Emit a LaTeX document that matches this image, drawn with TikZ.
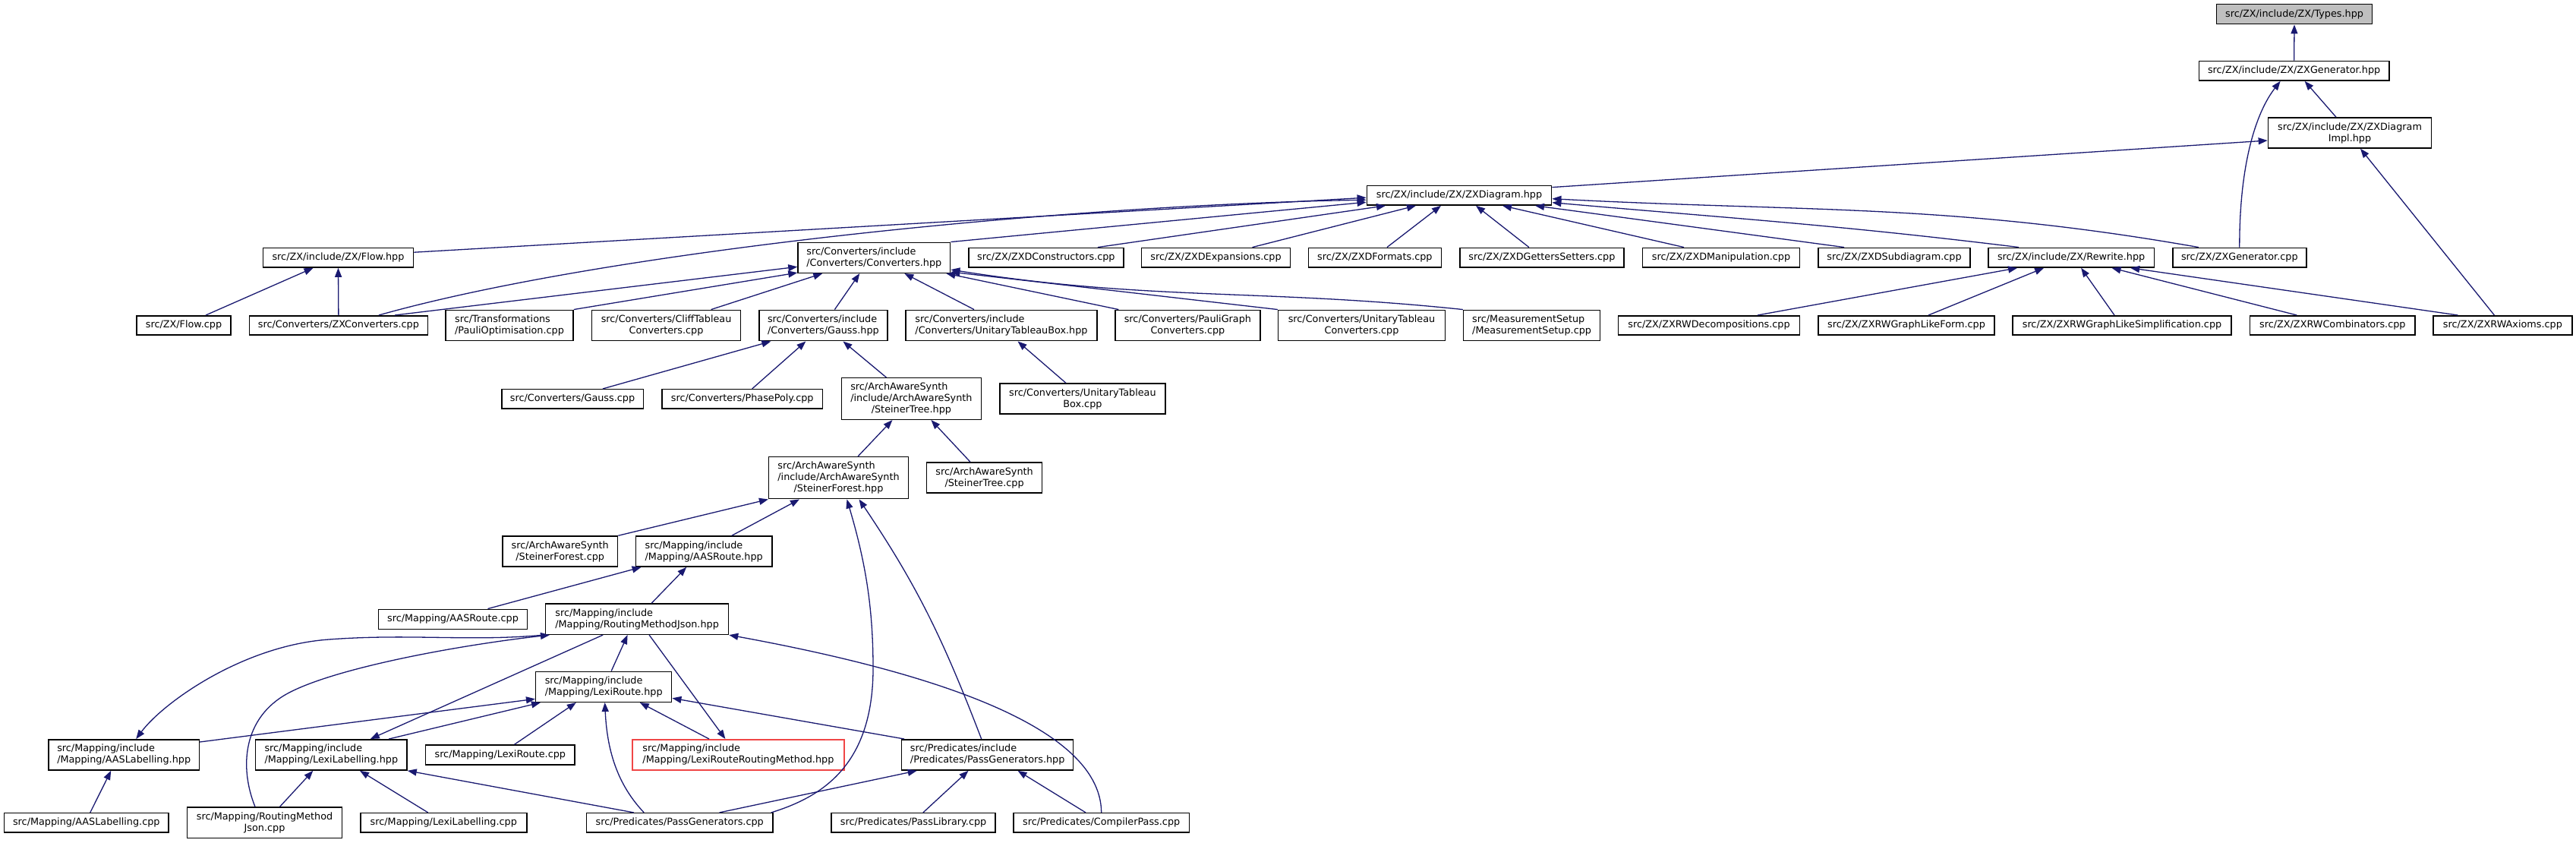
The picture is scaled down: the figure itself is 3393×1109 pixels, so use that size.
\documentclass[tikz,border=0pt]{standalone}
\usepackage{fontspec}
\setmainfont{DejaVu Sans}
\usetikzlibrary{arrows.meta}
\definecolor{edgeblue}{RGB}{25,25,112}
\definecolor{nodered}{RGB}{240,70,70}
\definecolor{rootgray}{RGB}{191,191,191}
\tikzset{
  box/.style={draw=black, line width=1.5pt, fill=white, inner sep=0pt, font=\fontsize{12.8}{15}\selectfont, align=center},
  lbox/.style={align=left},
  edge/.style={draw=edgeblue, line width=1.3pt, {Triangle[length=12pt,width=9pt]}-},
}
\newcommand\nd[7][]{\node[box,#1,minimum width=#5pt,minimum height=#6pt] (#2) at (#3,#4) {#7};}
\begin{document}
\begin{tikzpicture}[x=1pt,y=-1pt]
\useasboundingbox (0,0) rectangle (3393,1109);
% nodes
\nd[fill=rootgray]{types}{3022}{18.7}{205}{26}{src/ZX/include/ZX/Types.hpp}
\nd{zxghpp}{3021.6}{93.2}{250.4}{25.7}{src/ZX/include/ZX/ZXGenerator.hpp}
\nd{impl}{3095}{175}{215.2}{40}{src/ZX/include/ZX/ZXDiagram\\Impl.hpp}
\nd{zxd}{1922}{257.2}{243.3}{25.7}{src/ZX/include/ZX/ZXDiagram.hpp}
\nd{flowhpp}{445.5}{339.2}{198.3}{25.7}{src/ZX/include/ZX/Flow.hpp}
\nd[lbox]{convhpp}{1151.3}{339.3}{200.6}{40}{src/Converters/include\\/Converters/Converters.hpp}
\nd{zxdcons}{1377.9}{339.2}{203.8}{25.7}{src/ZX/ZXDConstructors.cpp}
\nd{zxdexp}{1601.5}{339.2}{195.6}{25.7}{src/ZX/ZXDExpansions.cpp}
\nd{zxdfmt}{1810.9}{339.2}{175.1}{25.7}{src/ZX/ZXDFormats.cpp}
\nd{zxdgs}{2030.9}{339.2}{216.2}{25.7}{src/ZX/ZXDGettersSetters.cpp}
\nd{zxdman}{2267}{339.2}{207.1}{25.7}{src/ZX/ZXDManipulation.cpp}
\nd{zxdsub}{2495}{339.2}{200.1}{25.7}{src/ZX/ZXDSubdiagram.cpp}
\nd{rewrite}{2728.1}{339.2}{218.4}{25.7}{src/ZX/include/ZX/Rewrite.hpp}
\nd{zxgcpp}{2949.8}{339.2}{176.1}{25.7}{src/ZX/ZXGenerator.cpp}
\nd{flowcpp}{242}{428.4}{124}{25.3}{src/ZX/Flow.cpp}
\nd{zxconv}{445.9}{428.4}{234.7}{25.3}{src/Converters/ZXConverters.cpp}
\nd[lbox]{pauliopt}{671}{428.5}{168}{40.4}{src/Transformations\\/PauliOptimisation.cpp}
\nd{clifft}{877.6}{428.5}{196.2}{40.4}{src/Converters/CliffTableau\\Converters.cpp}
\nd[lbox]{gausshpp}{1084.4}{428.5}{168.7}{40.4}{src/Converters/include\\/Converters/Gauss.hpp}
\nd[lbox]{utbhpp}{1319}{428.5}{252}{40.4}{src/Converters/include\\/Converters/UnitaryTableauBox.hpp}
\nd{pgconv}{1564.4}{428.5}{190.8}{40.4}{src/Converters/PauliGraph\\Converters.cpp}
\nd{utconv}{1793.5}{428.5}{219.7}{40.4}{src/Converters/UnitaryTableau\\Converters.cpp}
\nd[lbox]{meas}{2017.6}{428.5}{180}{40.4}{src/MeasurementSetup\\/MeasurementSetup.cpp}
\nd{rwdec}{2251}{428.4}{239.1}{25.3}{src/ZX/ZXRWDecompositions.cpp}
\nd{rwglf}{2511}{428.4}{232.1}{25.3}{src/ZX/ZXRWGraphLikeForm.cpp}
\nd{rwgls}{2795}{428.4}{288.3}{25.3}{src/ZX/ZXRWGraphLikeSimplification.cpp}
\nd{rwcomb}{3072.3}{428.4}{217.4}{25.3}{src/ZX/ZXRWCombinators.cpp}
\nd{rwax}{3296.4}{428.4}{183.2}{25.3}{src/ZX/ZXRWAxioms.cpp}
\nd{gausscpp}{754}{525.3}{186.5}{25.3}{src/Converters/Gauss.cpp}
\nd{phasepoly}{977.7}{525.3}{211.9}{25.3}{src/Converters/PhasePoly.cpp}
\nd{sthpp}{1200.4}{525}{183.8}{54.6}{\rlap{src/ArchAwareSynth}\phantom{/include/ArchAwareSynth}\\/include/ArchAwareSynth\\/SteinerTree.hpp}
\nd{utbcpp}{1425.9}{525}{218.3}{40}{src/Converters/UnitaryTableau\\Box.cpp}
\nd{sfhpp}{1104.5}{629.2}{183.7}{55}{\rlap{src/ArchAwareSynth}\phantom{/include/ArchAwareSynth}\\/include/ArchAwareSynth\\/SteinerForest.hpp}
\nd{stcpp}{1296.6}{629}{151.8}{40}{src/ArchAwareSynth\\/SteinerTree.cpp}
\nd{sfcpp}{737.7}{726}{151.8}{40}{src/ArchAwareSynth\\/SteinerForest.cpp}
\nd[lbox]{aasroutehpp}{927.2}{726}{179.6}{40}{src/Mapping/include\\/Mapping/AASRoute.hpp}
\nd{aasroutecpp}{596.5}{815.3}{195.6}{26}{src/Mapping/AASRoute.cpp}
\nd[lbox]{rmjhpp}{839.1}{815.2}{240.8}{40.3}{src/Mapping/include\\/Mapping/RoutingMethodJson.hpp}
\nd[lbox]{lexiroutehpp}{795.2}{904.3}{179}{40}{src/Mapping/include\\/Mapping/LexiRoute.hpp}
\nd[lbox]{aaslhpp}{163.2}{993.9}{198.3}{40.3}{src/Mapping/include\\/Mapping/AASLabelling.hpp}
\nd[lbox]{lexilhpp}{436.3}{993.9}{199.4}{40.3}{src/Mapping/include\\/Mapping/LexiLabelling.hpp}
\nd{lexiroutecpp}{658.8}{993.9}{196.8}{25.7}{src/Mapping/LexiRoute.cpp}
\nd[lbox,draw=nodered]{lrrm}{972.4}{993.9}{278.8}{40.3}{src/Mapping/include\\/Mapping/LexiRouteRoutingMethod.hpp}
\nd[lbox]{pghpp}{1300.7}{993.9}{226}{40.3}{src/Predicates/include\\/Predicates/PassGenerators.hpp}
\nd{aaslcpp}{113.8}{1083.3}{216.8}{25.3}{src/Mapping/AASLabelling.cpp}
\nd{rmjcpp}{348.5}{1083.2}{203.8}{40.3}{src/Mapping/RoutingMethod\\Json.cpp}
\nd{lexilcpp}{584.3}{1083.3}{219}{25.3}{src/Mapping/LexiLabelling.cpp}
\nd{pgcpp}{895.2}{1083.3}{245.6}{25.3}{src/Predicates/PassGenerators.cpp}
\nd{plcpp}{1203.1}{1083.3}{216.2}{25.3}{src/Predicates/PassLibrary.cpp}
\nd{cpcpp}{1450.7}{1083.3}{231.5}{25.3}{src/Predicates/CompilerPass.cpp}
% edges: arrow tip at the first end
\draw[edge] (types.south) -- (zxghpp.north);
\draw[edge] ([xshift=14pt]zxghpp.south) -- ([xshift=-18pt]impl.north);
\draw[edge] ([xshift=-18pt]zxghpp.south) .. controls (2970,150) and (2949.5,220) .. (zxgcpp.north);
\draw[edge] ([yshift=-10pt]impl.west) -- ([yshift=-3pt]zxd.north east);
\draw[edge] ([xshift=14pt]impl.south) -- ([xshift=-11pt]rwax.north);
\draw[edge] ([yshift=-3pt]zxd.west) -- ([yshift=7pt]flowhpp.east);
\draw[edge] ([yshift=-6pt]zxd.west) .. controls (1400,270) and (800,330) .. ([xshift=53pt]zxconv.north);
\draw[edge] ([yshift=-9pt]zxd.west) -- (convhpp.north east);
\draw[edge] ([xshift=-97pt]zxd.south) -- ([xshift=68pt]zxdcons.north);
\draw[edge] ([xshift=-57pt]zxd.south) -- ([xshift=48pt]zxdexp.north);
\draw[edge] ([xshift=-24pt]zxd.south) -- ([xshift=16pt]zxdfmt.north);
\draw[edge] ([xshift=22pt]zxd.south) -- ([xshift=-17pt]zxdgs.north);
\draw[edge] ([xshift=57pt]zxd.south) -- ([xshift=-49pt]zxdman.north);
\draw[edge] ([xshift=100pt]zxd.south) -- ([xshift=-66pt]zxdsub.north);
\draw[edge] ([yshift=-9.5pt]zxd.east) to[out=-5,in=173] ([xshift=-69pt]rewrite.north);
\draw[edge] ([yshift=-4.5pt]zxd.east) to[out=-3,in=170] ([xshift=-54pt]zxgcpp.north);
\draw[edge] ([yshift=-12pt]convhpp.west) -- ([xshift=74pt]zxconv.north);
\draw[edge] ([yshift=1pt]convhpp.south west) -- (pauliopt.north east);
\draw[edge] ([xshift=-68pt]convhpp.south) -- ([xshift=59pt]clifft.north);
\draw[edge] ([xshift=-19pt]convhpp.south) -- ([xshift=15pt]gausshpp.north);
\draw[edge] ([xshift=40pt]convhpp.south) -- ([xshift=-36pt]utbhpp.north);
\draw[edge] ([xshift=-6pt]convhpp.south east) -- ([xshift=-91pt]pgconv.north);
\draw[edge] ([yshift=2pt]convhpp.south east) -- (utconv.north west);
\draw[edge] ([yshift=5pt]convhpp.south east) to[out=-9,in=174] (meas.north west);
\draw[edge] ([xshift=-33pt]flowhpp.south) -- ([xshift=29pt]flowcpp.north);
\draw[edge] (flowhpp.south) -- (zxconv.north);
\draw[edge] ([xshift=-69pt]gausshpp.south) -- ([xshift=40pt]gausscpp.north);
\draw[edge] ([xshift=-23pt]gausshpp.south) -- ([xshift=13pt]phasepoly.north);
\draw[edge] ([xshift=26pt]gausshpp.south) -- ([xshift=-33pt]sthpp.north);
\draw[edge] ([xshift=21.5pt]utbhpp.south) -- ([xshift=-22pt]utbcpp.north);
\draw[edge] ([xshift=-25pt]sthpp.south) -- ([xshift=25.5pt]sfhpp.north);
\draw[edge] ([xshift=26pt]sthpp.south) -- ([xshift=-18.6pt]stcpp.north);
\draw[edge] (sfhpp.south west) -- (sfcpp.north east);
\draw[edge] ([xshift=-51.5pt]sfhpp.south) -- ([xshift=36.6pt]aasroutehpp.north);
\draw[edge] ([xshift=11pt]sfhpp.south) .. controls (1140,740) and (1150,800) .. (1150,880) .. controls (1150,1010) and (1080,1050) .. ([xshift=-3pt]pgcpp.north east);
\draw[edge] ([xshift=27pt]sfhpp.south) to[out=-56,in=111] ([xshift=-8pt]pghpp.north);
\draw[edge] ([xshift=8pt]aasroutehpp.south west) -- ([xshift=46pt]aasroutecpp.north);
\draw[edge] ([xshift=-23pt]aasroutehpp.south) -- ([xshift=19pt]rmjhpp.north);
\draw[edge] ([xshift=-12.5pt]rmjhpp.south) -- ([xshift=10pt]lexiroutehpp.north);
\draw[edge] ([xshift=16pt]aaslhpp.north) .. controls (215,925) and (320,850) .. (433,842) .. controls (540,834) and (620,845) .. ([xshift=-2pt]rmjhpp.south west);
\draw[edge] ([xshift=6pt]rmjhpp.south west) .. controls (600,850) and (440,880) .. (379,913) .. controls (320,945) and (315,1010) .. ([xshift=-12.5pt]rmjcpp.north);
\draw[edge] ([xshift=51.5pt]lexilhpp.north) -- ([xshift=-45pt]rmjhpp.south);
\draw[edge] ([xshift=-17pt]lrrm.north) -- ([xshift=16pt]rmjhpp.south);
\draw[edge] (rmjhpp.south east) .. controls (1200,880) and (1450,950) .. (cpcpp.north);
\draw[edge] ([yshift=-16pt]lexiroutehpp.west) -- ([yshift=-4pt]aaslhpp.north east);
\draw[edge] ([xshift=7pt]lexiroutehpp.south west) -- ([xshift=76pt]lexilhpp.north);
\draw[edge] ([xshift=-36.4pt]lexiroutehpp.south) -- ([xshift=18.7pt]lexiroutecpp.north);
\draw[edge] ([xshift=1.5pt]lexiroutehpp.south) .. controls (800,1000) and (820,1040) .. ([xshift=-47pt]pgcpp.north);
\draw[edge] ([yshift=-15pt]lexiroutehpp.east) -- ([xshift=4pt]pghpp.north west);
\draw[edge] ([xshift=47.6pt]lexiroutehpp.south) -- ([xshift=-38.4pt]lrrm.north);
\draw[edge] ([xshift=-17pt]aaslhpp.south) -- ([xshift=5pt]aaslcpp.north);
\draw[edge] ([xshift=-24pt]lexilhpp.south) -- ([xshift=20pt]rmjcpp.north);
\draw[edge] ([xshift=37.7pt]lexilhpp.south) -- ([xshift=-20.6pt]lexilcpp.north);
\draw[edge] (lexilhpp.south east) -- ([xshift=-60.5pt]pgcpp.north);
\draw[edge] ([xshift=-93pt]pghpp.south) -- ([xshift=52.4pt]pgcpp.north);
\draw[edge] ([xshift=-25.2pt]pghpp.south) -- ([xshift=12.8pt]plcpp.north);
\draw[edge] ([xshift=39.8pt]pghpp.south) -- ([xshift=-20.7pt]cpcpp.north);
\draw[edge] ([xshift=-71pt]rewrite.south) -- ([xshift=64pt]rwdec.north);
\draw[edge] ([xshift=-36pt]rewrite.south) -- ([xshift=29pt]rwglf.north);
\draw[edge] ([xshift=13pt]rewrite.south) -- ([xshift=-10pt]rwgls.north);
\draw[edge] ([xshift=53.4pt]rewrite.south) -- ([xshift=-47pt]rwcomb.north);
\draw[edge] ([xshift=78pt]rewrite.south) -- ([xshift=-59pt]rwax.north);
\end{tikzpicture}
\end{document}
